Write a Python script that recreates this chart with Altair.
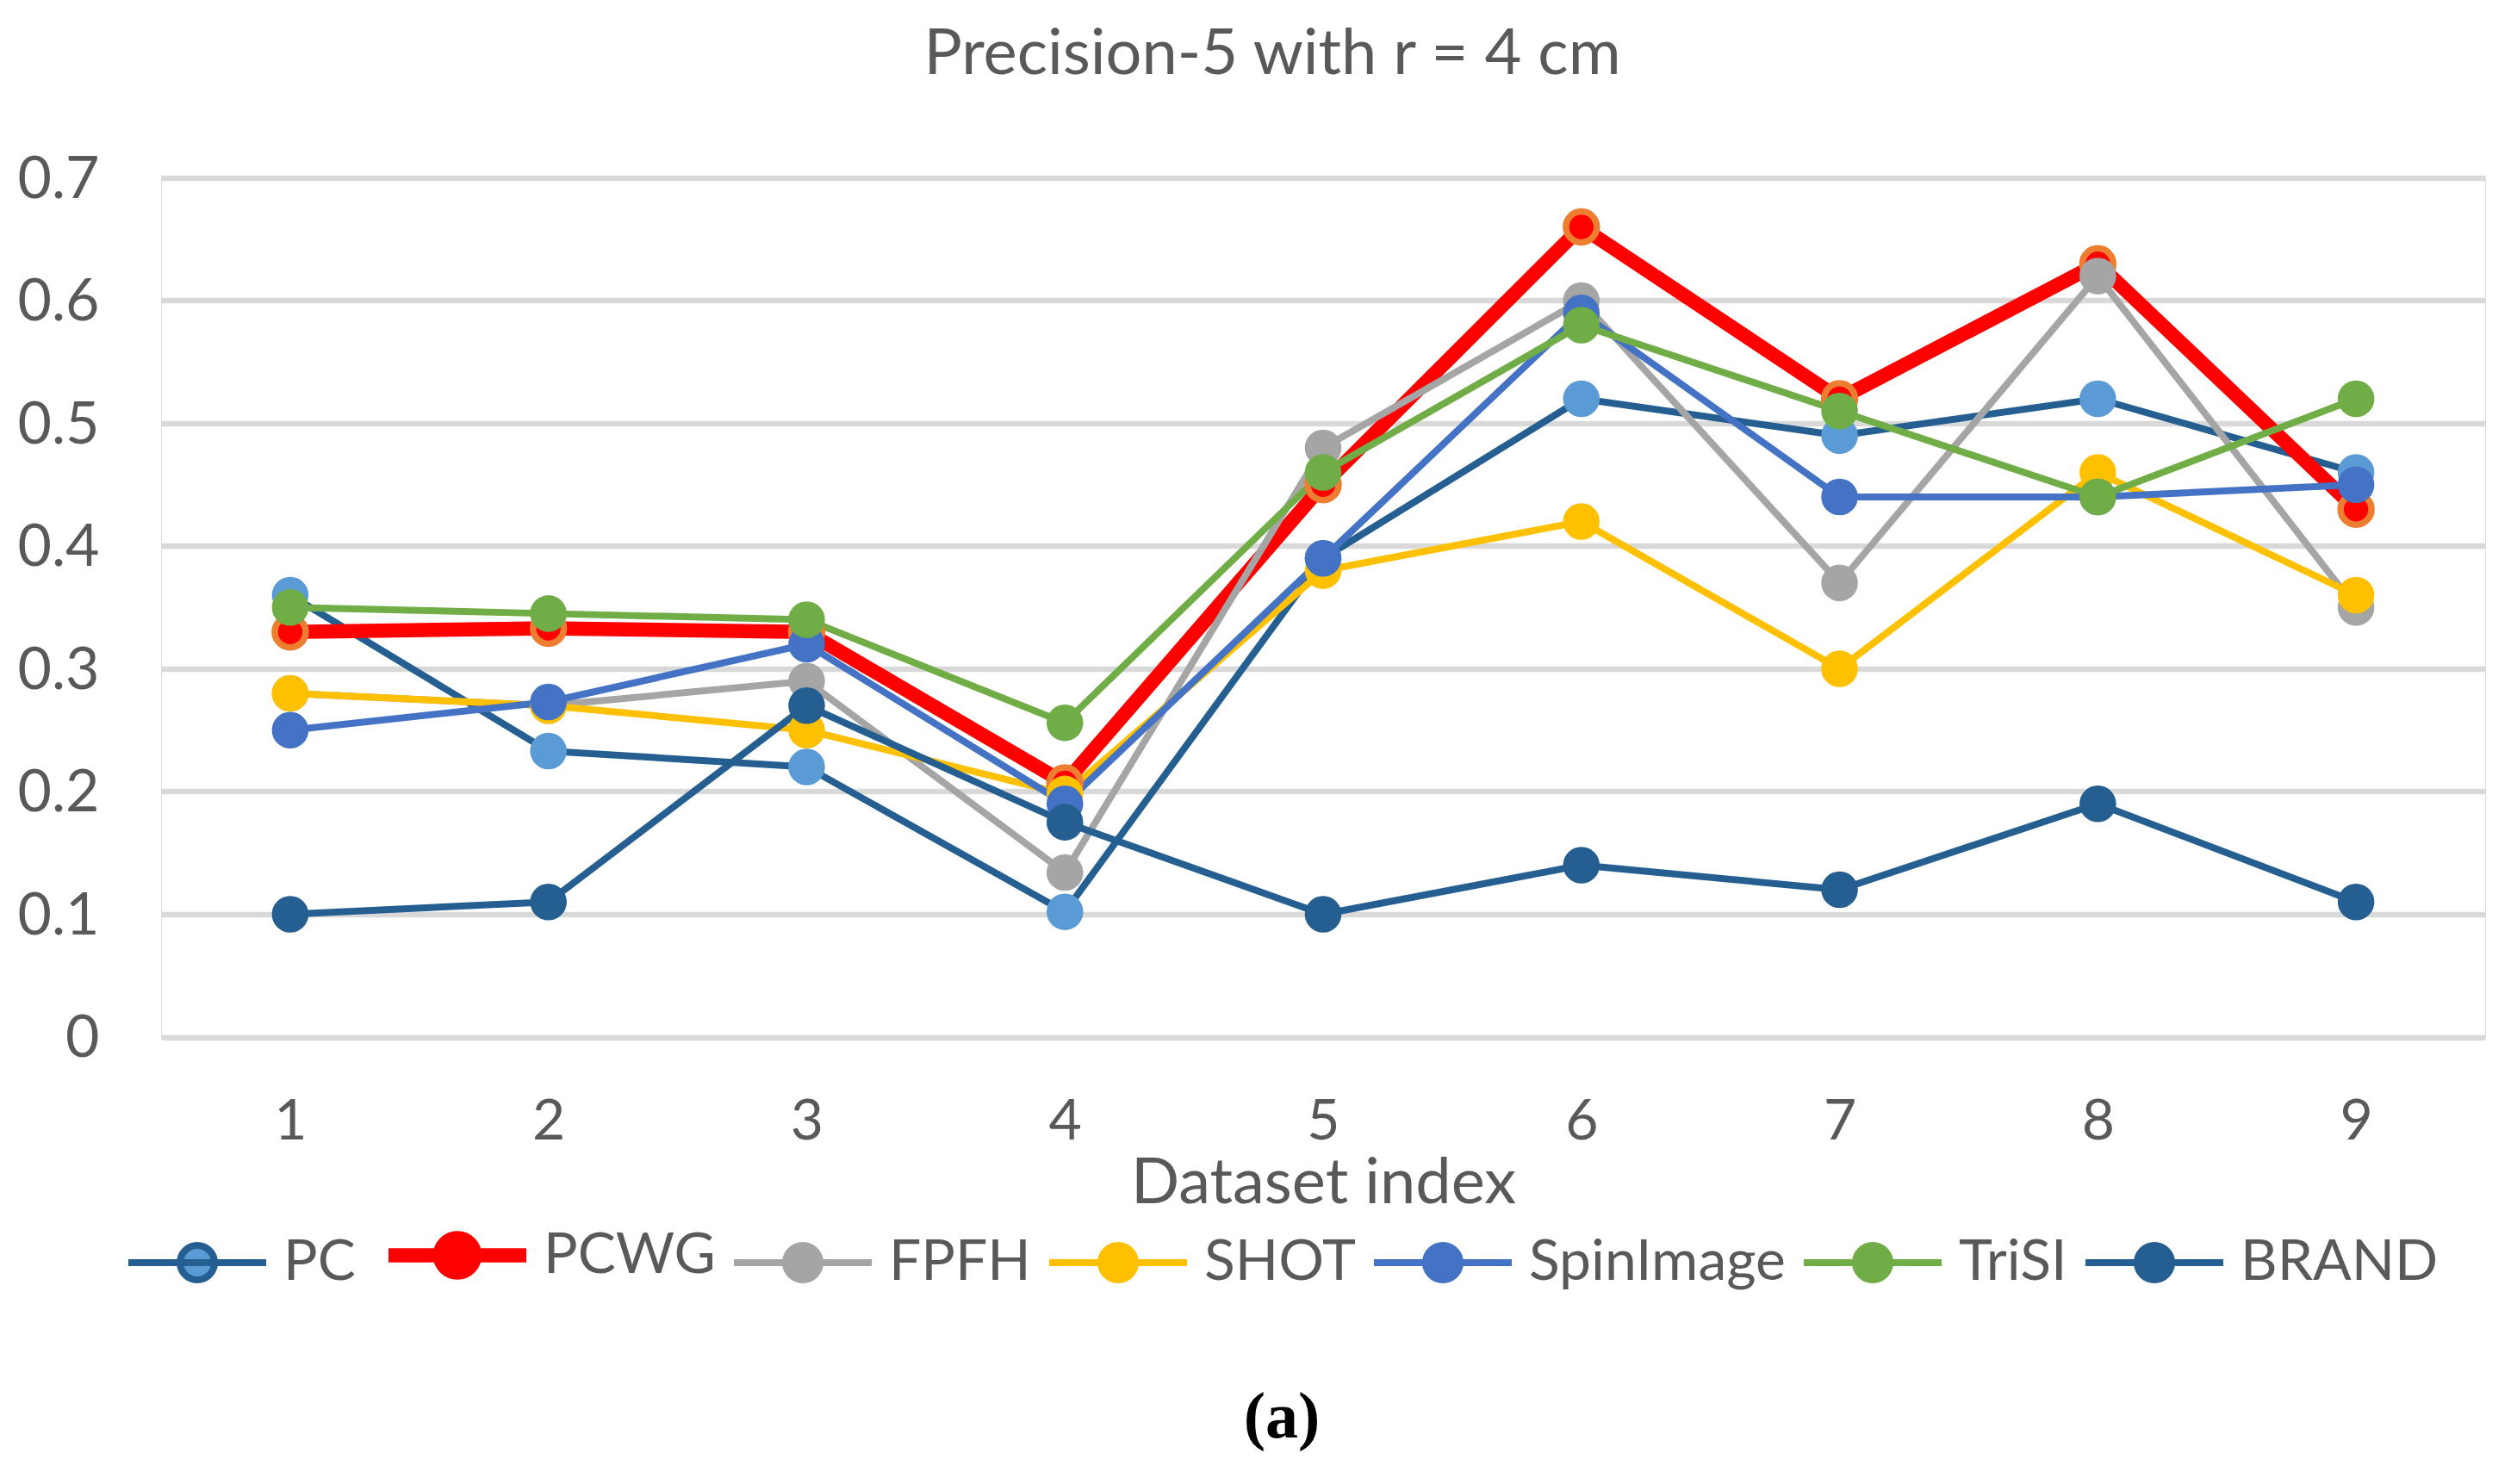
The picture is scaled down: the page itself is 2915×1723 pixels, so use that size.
import altair as alt
import pandas as pd

dataset_index = [1, 2, 3, 4, 5, 6, 7, 8, 9]
series_names = ["PC", "PCWG", "FPFH", "SHOT", "SpinImage", "TriSI", "BRAND"]

pc = [0.36, 0.233, 0.22, 0.102, 0.39, 0.52, 0.49, 0.52, 0.46]
pcwg = [0.33, 0.333, 0.33, 0.207, 0.45, 0.66, 0.52, 0.63, 0.43]
fpfh = [0.28, 0.27, 0.29, 0.134, 0.48, 0.60, 0.37, 0.62, 0.35]
shot = [0.28, 0.27, 0.25, 0.198, 0.38, 0.42, 0.30, 0.46, 0.36]
spinimage = [0.25, 0.273, 0.32, 0.19, 0.39, 0.59, 0.44, 0.44, 0.45]
trisi = [0.35, 0.345, 0.34, 0.256, 0.46, 0.58, 0.51, 0.44, 0.52]
brand = [0.10, 0.11, 0.27, 0.175, 0.10, 0.14, 0.12, 0.19, 0.11]

line_colors = ["#255E91", "#FF0000", "#A5A5A5", "#FFC000", "#4472C4", "#70AD47", "#255E91"]
marker_colors = ["#5B9BD5", "#FF0000", "#A5A5A5", "#FFC000", "#4472C4", "#70AD47", "#255E91"]
line_widths = [8, 16.5, 8, 8, 8, 8, 8]

y_ticks = [0, 0.1, 0.2, 0.3, 0.4, 0.5, 0.6, 0.7]

all_values = [pc, pcwg, fpfh, shot, spinimage, trisi, brand]
rows = []
for name, vals in zip(series_names, all_values):
    for xi, v in zip(dataset_index, vals):
        rows.append({"series": name, "x": xi, "value": v})
df = pd.DataFrame(rows)

TEXT = "#595959"
FONT = "Lato"

legend_path = ("M-3.333,0L3.333,0M0.8333,0A0.8333,0.8333,0,1,1,-0.8333,0"
               "A0.8333,0.8333,0,1,1,0.8333,0Z")

legend = alt.Legend(
    orient="none",
    legendX=-42,
    legendY=1218,
    direction="horizontal",
    title="(a)",
    titleOrient="bottom",
    titleAnchor="middle",
    titleFont="Liberation Serif",
    titleFontSize=76,
    titleFontWeight="bold",
    titleColor="#000000",
    titleBaseline="alphabetic",
    titlePadding=158,
    labelFont=FONT,
    labelFontSize=66,
    labelColor=TEXT,
    labelLimit=2000,
    labelOffset=67,
    symbolOffset=51,
    columnPadding=5,
    symbolSize=2304,
    symbolStrokeWidth=8,
    symbolType=legend_path,
    symbolOpacity=1,
    padding=0,
)

x_enc = alt.X(
    "x:Q",
    scale=alt.Scale(domain=[0.5, 9.5], nice=False, zero=False),
    axis=alt.Axis(
        values=dataset_index,
        format="d",
        title="Dataset index",
        grid=False,
        domain=False,
        ticks=False,
        labelFont=FONT,
        labelFontSize=66,
        labelColor=TEXT,
        labelPadding=118,
        labelBaseline="alphabetic",
        titleFont=FONT,
        titleFontSize=74,
        titleFontWeight="normal",
        titleColor=TEXT,
        titleY=192,
        titleBaseline="alphabetic",
    ),
)
y_enc = alt.Y(
    "value:Q",
    scale=alt.Scale(domain=[0, 0.7], nice=False, zero=True),
    axis=alt.Axis(
        values=y_ticks,
        format=".1~f",
        title=None,
        grid=True,
        gridColor="#D9D9D9",
        gridWidth=6.5,
        domain=False,
        ticks=False,
        labelFont=FONT,
        labelFontSize=68,
        labelColor=TEXT,
        labelPadding=72,
        labelBaseline="alphabetic",
        labelOffset=22.5,
    ),
)

lines = alt.Chart(df).mark_line(strokeJoin="round", strokeCap="round").encode(
    x=x_enc,
    y=y_enc,
    color=alt.Color("series:N", scale=alt.Scale(domain=series_names, range=line_colors), legend=legend),
    strokeWidth=alt.StrokeWidth(
        "series:N",
        scale=alt.Scale(type="ordinal", domain=series_names, range=line_widths),
        legend=legend,
    ),
    detail="series:N",
)

points = alt.Chart(df).mark_circle(opacity=1, fillOpacity=1).encode(
    x=x_enc,
    y=y_enc,
    fill=alt.Fill("series:N", scale=alt.Scale(domain=series_names, range=marker_colors), legend=legend),
    size=alt.condition(alt.datum.series == "PCWG", alt.value(1288), alt.value(1810)),
    stroke=alt.condition(alt.datum.series == "PCWG", alt.value("#ED7D31"), alt.value("transparent")),
    strokeWidth=alt.condition(alt.datum.series == "PCWG", alt.value(7.5), alt.value(0)),
)

chart = alt.layer(lines, points).properties(
    width=2698,
    height=997.5,
    padding={"left": 179, "top": 198.5, "right": 22, "bottom": 510},
    autosize=alt.AutoSizeParams(type="none"),
    title=alt.TitleParams(
        "Precision-5 with r = 4 cm",
        font=FONT,
        fontSize=74,
        fontWeight="normal",
        color=TEXT,
        anchor="middle",
        frame="group",
        dx=-59,
        baseline="alphabetic",
        offset=15.5,
    ),
).configure_view(stroke=None).configure(background="white")

chart.save("out.html", embed_options={"renderer": "svg", "actions": False})
